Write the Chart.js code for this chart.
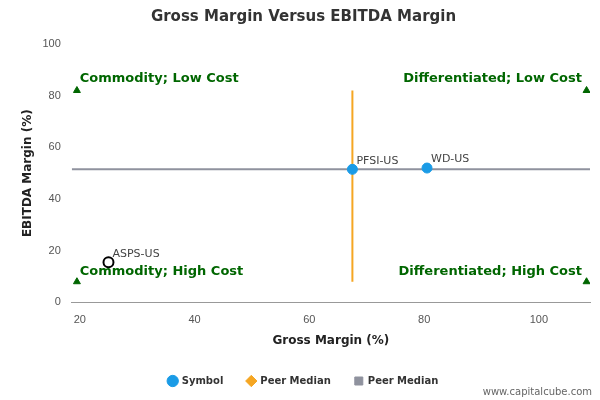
<!DOCTYPE html>
<html><head><meta charset="utf-8">
<script src="https://cdn.jsdelivr.net/npm/chart.js@4"></script>
<style>body{margin:0;background:#fff}#wrap{width:600px;height:400px}</style>
</head><body><div id="wrap"><canvas id="c"></canvas></div>
<script>
const xMin = 18.6, xMax = 108.9;
const symbolNames = ['PFSI-US', 'WD-US'];
const symbolX = [67.5, 80.5];
const symbolY = [51.5, 52];
const subjectName = 'ASPS-US';
const subjectPoint = { x: 25, y: 15.5 };
const medianX = 67.5, medianY = 51.5;
const cornerPoints = [{x: 19.5, y: 82}, {x: 108.3, y: 82}, {x: 19.5, y: 8}, {x: 108.3, y: 8}];
const quadrantLabels = ['Commodity; Low Cost', 'Differentiated; Low Cost', 'Commodity; High Cost', 'Differentiated; High Cost'];

const green = '#006600';

const labelPlugin = {
  id: 'labels',
  afterDatasetsDraw: (chart) => {
    const ctx = chart.ctx;
    const xs = chart.scales.x, ys = chart.scales.y;
    ctx.save();
    ctx.font = '11px "DejaVu Sans", sans-serif';
    ctx.fillStyle = '#444';
    ctx.textBaseline = 'bottom';
    symbolNames.forEach((n, i) => {
      ctx.fillText(n, xs.getPixelForValue(symbolX[i]) + 4, ys.getPixelForValue(symbolY[i]) - 3);
    });
    ctx.fillText(subjectName, xs.getPixelForValue(subjectPoint.x) + 4, ys.getPixelForValue(subjectPoint.y) - 3);
    ctx.font = 'bold 13px "DejaVu Sans", sans-serif';
    ctx.fillStyle = green;
    ctx.textBaseline = 'middle';
    const l = chart.chartArea.left + 8, r = chart.chartArea.right - 8;
    ctx.textAlign = 'left';
    ctx.fillText(quadrantLabels[0], l, ys.getPixelForValue(86.5));
    ctx.fillText(quadrantLabels[2], l, ys.getPixelForValue(12));
    ctx.textAlign = 'right';
    ctx.fillText(quadrantLabels[1], r, ys.getPixelForValue(86.5));
    ctx.fillText(quadrantLabels[3], r, ys.getPixelForValue(12));
    ctx.textAlign = 'right';
    ctx.font = '10px "DejaVu Sans", sans-serif';
    ctx.fillStyle = '#666';
    ctx.fillText('www.capitalcube.com', 592, 392);
    ctx.restore();
  }
};

new Chart(document.getElementById('c'), {
  type: 'scatter',
  data: {
    datasets: [
      { label: 'Symbol', data: symbolX.map((x, i) => ({x, y: symbolY[i]})), backgroundColor: '#1a9be6', borderColor: '#1a9be6', pointRadius: 5, order: 0 },
      { label: 'Peer Median', type: 'line', data: [{x: medianX, y: 8}, {x: medianX, y: 82}], borderColor: '#f5a623', backgroundColor: '#f5a623', pointStyle: 'rectRot', pointRadius: 0, borderWidth: 2, order: 2 },
      { label: 'Peer Median', type: 'line', data: [{x: xMin, y: medianY}, {x: xMax, y: medianY}], borderColor: '#8f929e', backgroundColor: '#8f929e', pointStyle: 'rect', pointRadius: 0, borderWidth: 2, order: 3 },
      { label: 'subject', data: [subjectPoint], backgroundColor: '#fff', borderColor: '#000', borderWidth: 2, pointRadius: 5, order: 0 },
      { label: 'corners', data: cornerPoints, pointStyle: 'triangle', backgroundColor: green, borderColor: green, pointRadius: 4, order: 1 }
    ]
  },
  options: {
    responsive: true, maintainAspectRatio: false, animation: false,
    layout: { padding: { left: 17, right: 10, top: 0, bottom: 4 } },
    plugins: {
      title: { display: true, text: 'Gross Margin Versus EBITDA Margin', color: '#333', font: { size: 15, weight: 'bold', family: '"DejaVu Sans", sans-serif' }, padding: { top: 8, bottom: 18 } },
      legend: {
        position: 'bottom',
        labels: {
          filter: (item) => item.datasetIndex < 3,
          usePointStyle: true, boxWidth: 8, boxHeight: 8, padding: 24,
          color: '#333', font: { size: 10, weight: 'bold', family: '"DejaVu Sans", sans-serif' },
          generateLabels: (chart) => chart.data.datasets.slice(0, 3).map((d, i) => ({
            text: d.label, fillStyle: d.backgroundColor, strokeStyle: d.borderColor, lineWidth: 1,
            pointStyle: i === 0 ? 'circle' : (i === 1 ? 'rectRot' : 'rect'), datasetIndex: i, fontColor: '#333'
          }))
        }
      },
      tooltip: { enabled: false }
    },
    scales: {
      x: {
        min: xMin, max: xMax,
        afterBuildTicks: (s) => { s.ticks = [20, 40, 60, 80, 100].map(v => ({value: v})); },
        grid: { display: false }, border: { color: '#999' },
        ticks: { color: '#555', font: { size: 11 } },
        title: { display: true, text: 'Gross Margin (%)', color: '#222', font: { size: 12, weight: 'bold', family: '"DejaVu Sans", sans-serif' } }
      },
      y: {
        min: 0, max: 100,
        ticks: { stepSize: 20, color: '#555', font: { size: 11 } },
        grid: { display: false }, border: { display: false },
        title: { display: true, text: 'EBITDA Margin (%)', color: '#222', font: { size: 12, weight: 'bold', family: '"DejaVu Sans", sans-serif' } }
      }
    }
  },
  plugins: [labelPlugin]
});
</script></body></html>
